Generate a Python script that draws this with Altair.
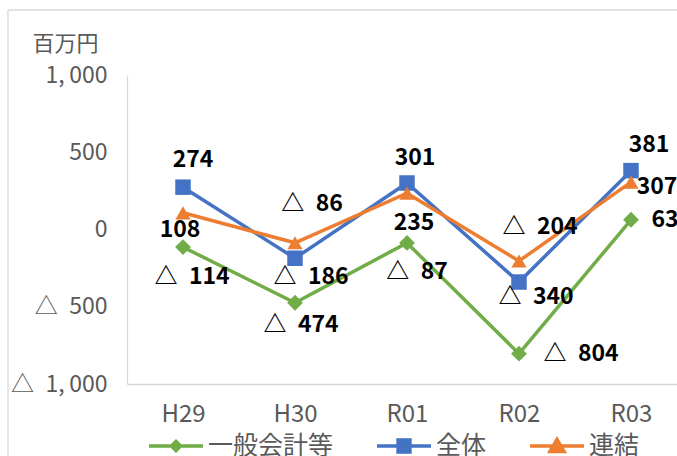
import altair as alt
import pandas as pd

# 年度別の収支（百万円）
categories = ["H29", "H30", "R01", "R02", "R03"]
series_names = ["一般会計等", "全体", "連結"]
general_account = [-114, -474, -87, -804, 63]
whole = [274, -186, 301, -340, 381]
consolidated = [108, -86, 235, -204, 307]
series_values = [general_account, whole, consolidated]

colors = ["#70AD47", "#4472C4", "#ED7D31"]
marker_shapes = ["diamond", "square", "triangle-up"]
marker_sizes = [250, 240, 230]
# legend glyphs: a short line with the series marker on it
legend_glyphs = [
    "M-1,0H1M-0.17,0L0,-0.17L0.17,0L0,0.17Z",
    "M-1,0H1M-0.22,-0.22H0.22V0.22H-0.22Z",
    "M-1,0H1M-0.26,0.2L0.26,0.2L0,-0.24Z",
]

# where each value label sits relative to its marker (dx, dy)
label_offsets = {
    ("全体", "H29"): (10, -27),
    ("連結", "H29"): (-3, 17),
    ("一般会計等", "H29"): (9, 30),
    ("連結", "H30"): (17, -39),
    ("全体", "H30"): (16, 19),
    ("一般会計等", "H30"): (6, 22),
    ("全体", "R01"): (8, -25),
    ("連結", "R01"): (7, 30),
    ("一般会計等", "R01"): (10, 29),
    ("連結", "R02"): (21, -34),
    ("全体", "R02"): (17, 15),
    ("一般会計等", "R02"): (62, 0),
    ("全体", "R03"): (18, -26),
    ("連結", "R03"): (26, 5),
    ("一般会計等", "R03"): (34, 0),
}

EN = "\u2002"    # half-width gap after the △ sign
THIN = "\u2009"  # gap after the thousands comma


def fmt(v):
    return f"△{EN}{abs(v):,}" if v < 0 else f"{v:,}"


rows = []
for name, vals in zip(series_names, series_values):
    for cat, v in zip(categories, vals):
        rows.append({"系列": name, "年度": cat, "値": v, "ラベル": fmt(v)})
df = pd.DataFrame(rows)

NUM_FONT = "Noto Sans CJK JP, sans-serif"
JP_FONT = "Noto Sans CJK JP, sans-serif"
GRAY = "#595959"
LINE_GRAY = "#d9d9d9"

W, H = 550, 309

X = alt.X(
    "年度:N",
    sort=categories,
    scale=alt.Scale(domain=categories, range=[0, 560], paddingInner=0, paddingOuter=0),
    axis=alt.Axis(
        title=None, labelAngle=0, ticks=False, domainColor=LINE_GRAY, domainWidth=1.3,
        labelFont=NUM_FONT, labelFontSize=24, labelColor=GRAY, labelPadding=18,
    ),
)
Y = alt.Y(
    "値:Q",
    scale=alt.Scale(domain=[-1000, 1000], nice=False, zero=False),
    axis=alt.Axis(
        values=[-1000, -500, 0, 500, 1000],
        labelExpr=(
            f"replace(datum.value < 0 ? '△{EN}' + format(-datum.value, ',') "
            f": format(datum.value, ','), ',', ',{THIN}')"
        ),
        grid=False, ticks=False, domainColor=LINE_GRAY, domainWidth=1.3,
        labelFont=NUM_FONT, labelFontSize=23, labelColor=GRAY, labelPadding=20,
        labelFlush=False, labelOverlap=False, labelBound=False,
        title="百万円", titleAngle=0, titleAlign="left", titleBaseline="middle",
        titleX=-95, titleY=-32, titleFont=JP_FONT, titleFontSize=22,
        titleFontWeight="normal", titleColor=GRAY,
    ),
)

one = pd.DataFrame({"k": [0]})
frame_top = alt.Chart(one).mark_rule(color=LINE_GRAY, strokeWidth=1.3).encode(
    x=alt.value(-119), x2=alt.value(W), y=alt.value(-65)
)
frame_left = alt.Chart(one).mark_rule(color=LINE_GRAY, strokeWidth=1.3).encode(
    x=alt.value(-119), y=alt.value(-65), y2=alt.value(H + 72)
)

layers = [frame_top, frame_left]
base = alt.Chart(df)
for name, col, shp, sz in zip(series_names, colors, marker_shapes, marker_sizes):
    sub = base.transform_filter(alt.datum["系列"] == name)
    layers.append(sub.mark_line(color=col, strokeWidth=3.5).encode(x=X, y=Y))
    layers.append(
        sub.mark_point(filled=True, shape=shp, size=sz, color=col, opacity=1).encode(x=X, y=Y)
    )

for (name, cat), (dx, dy) in label_offsets.items():
    layers.append(
        base.transform_filter((alt.datum["系列"] == name) & (alt.datum["年度"] == cat))
        .mark_text(font=NUM_FONT, fontWeight="bold", fontSize=23, color="black",
                   align="center", baseline="middle", dx=dx, dy=dy)
        .encode(x=X, y=Y, text="ラベル:N")
    )

legend_def = alt.Legend(
    title=None, orient="none", direction="horizontal", legendX=20, legendY=342,
    symbolSize=2916, symbolStrokeWidth=3.5, symbolOpacity=1, labelFont=JP_FONT,
    labelFontSize=25, labelColor=GRAY, labelOffset=3, columnPadding=36,
)
legend_layer = base.transform_filter("false").mark_point(filled=True, opacity=1).encode(
    x=X, y=Y,
    fill=alt.Fill("系列:N", scale=alt.Scale(domain=series_names, range=colors), legend=legend_def),
    stroke=alt.Stroke("系列:N", scale=alt.Scale(domain=series_names, range=colors), legend=legend_def),
    shape=alt.Shape("系列:N", scale=alt.Scale(domain=series_names, range=legend_glyphs), legend=legend_def),
)
layers.append(legend_layer)

chart = (
    alt.layer(*layers)
    .properties(
        width=W, height=H,
        autosize=alt.AutoSizeParams(type="none"),
        padding={"left": 127, "top": 75, "right": 0, "bottom": 72},
        background="white",
    )
    .configure_view(stroke=None)
)

chart.save("out.html", embed_options={"renderer": "svg", "actions": False})
